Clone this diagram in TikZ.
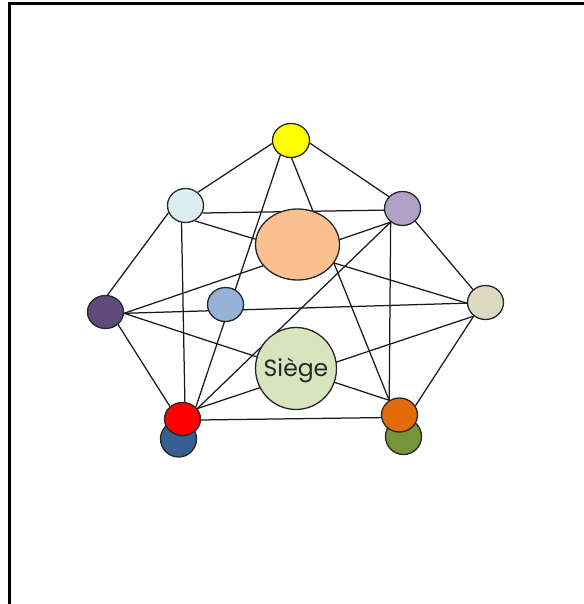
\documentclass[tikz,border=0pt]{standalone}
\usepackage{fontspec}
\setmainfont{Poppins}
\usetikzlibrary{shapes.geometric,backgrounds}
\definecolor{cY}{HTML}{FFFF00}
\definecolor{cLB}{HTML}{DAEEF3}
\definecolor{cP}{HTML}{B2A1C7}
\definecolor{cPE}{HTML}{FAC090}
\definecolor{cDP}{HTML}{604A7B}
\definecolor{cBG}{HTML}{95B3D7}
\definecolor{cBE}{HTML}{DDD9C3}
\definecolor{cS}{HTML}{D7E4BD}
\definecolor{cR}{HTML}{FF0000}
\definecolor{cDB}{HTML}{376092}
\definecolor{cO}{HTML}{E36C09}
\definecolor{cG}{HTML}{77933C}
\begin{document}
\begin{tikzpicture}[x=1pt,y=-1pt,
  dot/.style={ellipse,draw=black!85,line width=1.3pt,inner sep=0pt,minimum width=36pt,minimum height=34pt},
  link/.style={draw=black!90,line width=1.25pt}]
\useasboundingbox (0,0) rectangle (583,604);
\draw[line width=3pt] (9.5,606) -- (9.5,4) -- (585,4);
\node[dot,fill=cY,minimum width=37pt] (Y) at (291,140.5) {};
\node[dot,fill=cLB] (LB) at (185.5,205.5) {};
\node[dot,fill=cP] (P) at (402.5,208.5) {};
\node[dot,fill=cPE,minimum width=84pt,minimum height=71pt] (PE) at (297.5,244.5) {};
\node[dot,fill=cDP,minimum height=33pt] (DP) at (105.5,312) {};
\node[dot,fill=cBG] (BG) at (225.5,304.5) {};
\node[dot,fill=cBE] (BE) at (485.5,302.5) {};
\node[dot,fill=cS,minimum width=81pt,minimum height=82pt,text=black!85,
  font=\fontsize{23.5}{23.5}\selectfont,text height=16.4pt,text depth=0pt] (S) at (296,368.5) {\makebox[0pt]{Siège}};
\node[dot,fill=cDB,minimum height=36pt] (DB) at (178.5,439) {};
\node[dot,fill=cR,minimum height=33pt] (R) at (182.5,419) {};
\node[dot,fill=cG,minimum height=36pt] (G) at (403.5,436.5) {};
\node[dot,fill=cO] (O) at (399.5,415) {};
\begin{pgfonlayer}{background}
\draw[link] (Y.189) -- (LB.47);
\draw[link] (Y.352) -- (P.139);
\draw[link] (Y.272) -- (O.125);
\draw[link] (Y.234) -- (R.42);
\draw[link] (LB.336) -- (P.185);
\draw[link] (LB.301) -- (BE.182);
\draw[link] (LB.203) -- (DP.83);
\draw[link] (LB.257) -- (R.82);
\draw[link] (P.229) -- (DP.356);
\draw[link] (P.229) -- (R.35);
\draw[link] (P.229) -- (O.125);
\draw[link] (P.315) -- (BE.134);
\draw[link] (DP.356) -- (BE.182);
\draw[link] (DP.356) -- (O.125);
\draw[link] (DP.315) -- (R.135);
\draw[link] (R.35) -- (BE.229);
\draw[link] (R.357) -- (O.188);
\draw[link] (O.30) -- (BE.229);
\end{pgfonlayer}
\end{tikzpicture}
\end{document}
